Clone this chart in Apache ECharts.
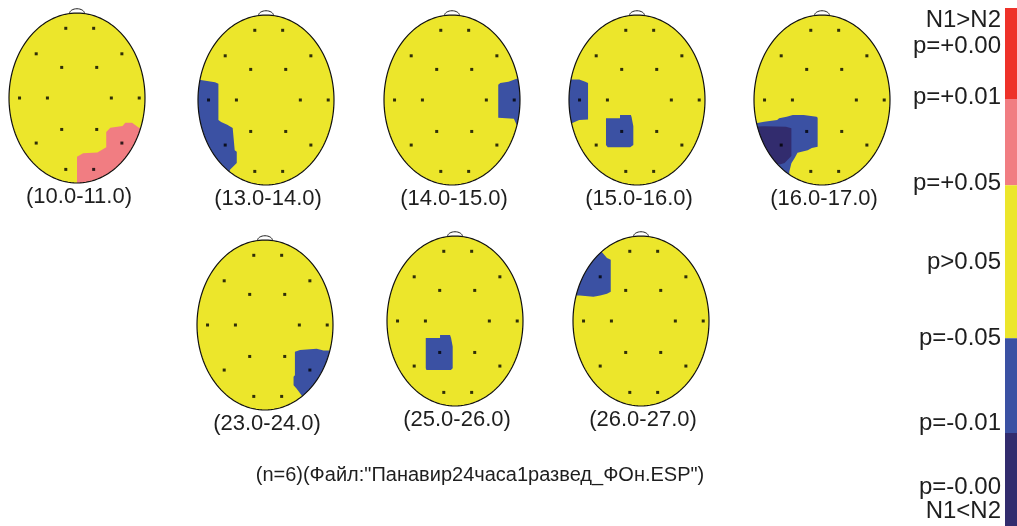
<!DOCTYPE html>
<html>
<head>
<meta charset="utf-8">
<script src="https://cdn.jsdelivr.net/npm/echarts@6/dist/echarts.min.js"></script>
<style>
  html, body { margin: 0; padding: 0; background: #ffffff; }
  #chart { width: 1017px; height: 526px; }
</style>
</head>
<body>
<div id="chart"></div>
<script>
// ---- data ---------------------------------------------------------------
// analysis windows, seconds
const windowLabels = ['(10.0-11.0)', '(13.0-14.0)', '(14.0-15.0)', '(15.0-16.0)', '(16.0-17.0)',
                      '(23.0-24.0)', '(25.0-26.0)', '(26.0-27.0)'];

// 16-channel montage, head-unit coordinates (x: left→right, y: back→nose)
const electrodeNames = ['Fp1', 'Fp2', 'F7', 'F3', 'F4', 'F8', 'T3', 'C3', 'C4', 'T4', 'T5', 'P3', 'P4', 'T6', 'O1', 'O2'];
const electrodeX = [-0.165, 0.245, -0.60, -0.225, 0.29, 0.66, -0.845, -0.435, 0.505, 0.915, -0.60, -0.225, 0.29, 0.66, -0.165, 0.245];
const electrodeY = [0.82, 0.82, 0.52, 0.36, 0.36, 0.52, 0.0, 0.0, 0.0, 0.0, -0.53, -0.37, -0.37, -0.53, -0.84, -0.84];

// significance levels of the N1 vs N2 comparison
const levelKeys   = ['pos001', 'pos01', 'ns', 'neg01', 'neg001'];
const levelColors = ['#ee3129', '#f17d82', '#ece62b', '#3b51a3', '#322c6e'];

// significant areas per window, as contours in head units
const areas10_11 = [
  { level: 'pos01', points: [[0.0, -1.2], [0.0, -0.69], [0.09, -0.65], [0.30, -0.64], [0.43, -0.58], [0.43, -0.40],
    [0.49, -0.35], [0.67, -0.33], [0.71, -0.29], [0.81, -0.29], [0.91, -0.35], [1.2, -0.35], [1.2, -1.2]] }
];
const areas13_14 = [
  { level: 'neg01', points: [[-1.2, 0.235], [-0.96, 0.235], [-0.75, 0.21], [-0.70, 0.19], [-0.70, -0.235], [-0.66, -0.26],
    [-0.57, -0.29], [-0.49, -0.33], [-0.46, -0.59], [-0.43, -0.61], [-0.43, -0.74], [-0.53, -0.82], [-0.6, -1.2], [-1.2, -1.2]] }
];
const areas14_15 = [
  { level: 'neg01', points: [[0.68, 0.18], [0.71, 0.20], [0.83, 0.215], [0.95, 0.25], [1.2, 0.25], [1.2, -0.30],
    [0.95, -0.29], [0.91, -0.22], [0.68, -0.21]] }
];
const areas15_16 = [
  { level: 'neg01', points: [[-1.2, 0.24], [-0.85, 0.24], [-0.76, 0.215], [-0.72, 0.20], [-0.72, -0.23], [-0.85, -0.235],
    [-0.95, -0.27], [-1.2, -0.27]] },
  { level: 'neg01', points: [[-0.456, -0.215], [-0.25, -0.215], [-0.25, -0.176], [-0.09, -0.176], [-0.08, -0.20],
    [-0.054, -0.31], [-0.054, -0.53], [-0.10, -0.556], [-0.43, -0.556], [-0.456, -0.53]] }
];
const areas16_17 = [
  { level: 'neg01', points: [[-1.2, -0.27], [-0.95, -0.27], [-0.85, -0.255], [-0.66, -0.235], [-0.63, -0.215], [-0.52, -0.196],
    [-0.43, -0.176], [-0.27, -0.176], [-0.08, -0.196], [-0.064, -0.21], [-0.064, -0.55], [-0.15, -0.565], [-0.21, -0.59],
    [-0.36, -0.62], [-0.40, -0.68], [-0.45, -0.745], [-0.48, -0.84], [-0.5, -1.2], [-1.2, -1.2]] },
  { level: 'neg001', points: [[-1.2, -0.32], [-0.85, -0.31], [-0.53, -0.314], [-0.45, -0.333], [-0.45, -0.66],
    [-0.50, -0.70], [-0.55, -0.74], [-0.62, -0.76], [-0.70, -0.74], [-1.2, -0.74]] }
];
const areas23_24 = [
  { level: 'neg01', points: [[0.44, -0.314], [0.515, -0.294], [0.76, -0.28], [0.86, -0.30], [1.2, -0.30], [1.2, -1.2],
    [0.6, -1.2], [0.54, -0.83], [0.466, -0.75], [0.42, -0.71], [0.42, -0.61], [0.44, -0.59]] }
];
const areas25_26 = [
  { level: 'neg01', points: [[-0.43, -0.20], [-0.22, -0.20], [-0.22, -0.165], [-0.073, -0.165], [-0.058, -0.20],
    [-0.034, -0.30], [-0.034, -0.556], [-0.06, -0.576], [-0.42, -0.576], [-0.43, -0.556]] }
];
const areas26_27 = [
  { level: 'neg01', points: [[-0.6, 1.2], [-0.58, 0.815], [-0.50, 0.74], [-0.445, 0.72], [-0.445, 0.345], [-0.50, 0.32],
    [-0.60, 0.30], [-0.70, 0.285], [-0.90, 0.30], [-1.2, 0.30], [-1.2, 1.2]] }
];
const windowAreas = [areas10_11, areas13_14, areas14_15, areas15_16, areas16_17, areas23_24, areas25_26, areas26_27];

// colour scale: band edges and tick labels on a 0–100 scale, top to bottom
const scaleBandEdges = [1.5, 18.8, 35.2, 64.3, 82.3, 100];
const scaleLabels    = ['N1>N2', 'p=+0.00', 'p=+0.01', 'p=+0.05', 'p>0.05', 'p=-0.05', 'p=-0.01', 'p=-0.00', 'N1<N2'];
const scaleLabelPos  = [3.8, 8.9, 18.6, 34.8, 49.8, 64.3, 80.4, 92.6, 97.3];

const footnote = '(n=6)(Файл:"Панавир24часа1развед_ФОн.ESP")';

// ---- layout --------------------------------------------------------------
const headCenters = [[77, 98], [266, 100], [452, 100], [637, 100], [822, 100], [265, 325], [455, 321], [641, 321]];
const headRx = 68, headRy = 85;
const labelOffsetY = 99;
const FONT = '"Liberation Sans", Arial, sans-serif';

// ---- geometry helpers ----------------------------------------------------
const RIM_STEPS = 144;
const rim = [];
for (let i = 0; i < RIM_STEPS; i++) {
  const t = (i / RIM_STEPS) * Math.PI * 2;
  rim.push([Math.cos(t), Math.sin(t)]);
}
function side(a, b, p) {
  return (b[0] - a[0]) * (p[1] - a[1]) - (b[1] - a[1]) * (p[0] - a[0]);
}
// Sutherland–Hodgman clip of an area contour to the head outline
function clipToHead(poly) {
  let out = poly;
  for (let i = 0; i < rim.length && out.length; i++) {
    const a = rim[i], b = rim[(i + 1) % rim.length];
    const src = out;
    out = [];
    for (let j = 0; j < src.length; j++) {
      const p = src[j], q = src[(j + 1) % src.length];
      const sp = side(a, b, p), sq = side(a, b, q);
      if (sp >= 0) out.push(p);
      if ((sp >= 0) !== (sq >= 0)) {
        const t = sp / (sp - sq);
        out.push([p[0] + t * (q[0] - p[0]), p[1] + t * (q[1] - p[1])]);
      }
    }
  }
  return out;
}
const colorOf = {};
levelKeys.forEach((k, i) => { colorOf[k] = levelColors[i]; });

// ---- option --------------------------------------------------------------
const grid = [], xAxis = [], yAxis = [], series = [], graphic = [];

headCenters.forEach((c, h) => {
  grid.push({ left: c[0] - headRx, top: c[1] - headRy, width: headRx * 2, height: headRy * 2 });
  xAxis.push({ gridIndex: h, type: 'value', min: -1, max: 1, show: false });
  yAxis.push({ gridIndex: h, type: 'value', min: -1, max: 1, show: false });

  // scalp
  series.push({
    type: 'custom', xAxisIndex: h, yAxisIndex: h, silent: true, animation: false, z: 1,
    data: [[0, 0]],
    renderItem: (params, api) => ({
      type: 'polygon',
      shape: { points: rim.map(p => api.coord(p)) },
      style: { fill: levelColors[2] }
    })
  });

  // significant areas
  const areas = windowAreas[h];
  series.push({
    type: 'custom', xAxisIndex: h, yAxisIndex: h, silent: true, animation: false, z: 2,
    data: areas.map(() => [0, 0]),
    renderItem: (params, api) => {
      const a = areas[params.dataIndex];
      return {
        type: 'polygon',
        shape: { points: clipToHead(a.points).map(p => api.coord(p)) },
        style: { fill: colorOf[a.level] }
      };
    }
  });

  // outline and nose
  series.push({
    type: 'custom', xAxisIndex: h, yAxisIndex: h, silent: true, animation: false, z: 3,
    data: [[0, 0]],
    renderItem: (params, api) => {
      const nose = [];
      for (let i = 0; i <= 16; i++) {
        const t = (i / 16) * Math.PI;
        nose.push(api.coord([0.11 * Math.cos(t), 0.995 + 0.055 * Math.sin(t)]));
      }
      return {
        type: 'group',
        children: [
          { type: 'polygon', shape: { points: rim.map(p => api.coord(p)) },
            style: { fill: 'none', stroke: '#111', lineWidth: 1.2 } },
          { type: 'polyline', shape: { points: nose },
            style: { fill: 'none', stroke: '#222', lineWidth: 1 } }
        ]
      };
    }
  });

  // electrodes
  series.push({
    type: 'scatter', xAxisIndex: h, yAxisIndex: h, silent: true, animation: false, z: 4,
    symbol: 'rect', symbolSize: 3,
    itemStyle: { color: '#000' },
    data: electrodeNames.map((n, i) => ({ name: n, value: [electrodeX[i], electrodeY[i]] }))
  });

  graphic.push({
    type: 'text', x: c[0] + 2, y: c[1] + labelOffsetY, silent: true,
    style: { text: windowLabels[h], font: '22px ' + FONT, fill: '#1e1e1e', align: 'center', verticalAlign: 'middle' }
  });
});

// colour scale
const sIdx = headCenters.length;
grid.push({ left: 1005, top: 0, width: 12, height: 526 });
xAxis.push({ gridIndex: sIdx, type: 'value', min: 0, max: 1, show: false });
yAxis.push({ gridIndex: sIdx, type: 'value', min: 0, max: 100, inverse: true, show: false });
series.push({
  type: 'custom', xAxisIndex: sIdx, yAxisIndex: sIdx, silent: true, animation: false,
  data: levelColors.map((col, i) => [scaleBandEdges[i], scaleBandEdges[i + 1]]),
  renderItem: (params, api) => {
    const p0 = api.coord([0, api.value(0)]);
    const p1 = api.coord([1, api.value(1)]);
    return {
      type: 'rect',
      shape: { x: p0[0], y: p0[1], width: p1[0] - p0[0], height: p1[1] - p0[1] },
      style: { fill: levelColors[params.dataIndex] }
    };
  }
});
series.push({
  type: 'custom', xAxisIndex: sIdx, yAxisIndex: sIdx, silent: true, animation: false,
  data: scaleLabelPos.map(v => [0, v]),
  renderItem: (params, api) => {
    const p = api.coord([0, api.value(1)]);
    return {
      type: 'text', x: p[0] - 4, y: p[1],
      style: { text: scaleLabels[params.dataIndex], font: '24px ' + FONT, fill: '#1e1e1e',
               align: 'right', verticalAlign: 'middle' }
    };
  }
});

graphic.push({
  type: 'text', x: 480, y: 475, silent: true,
  style: { text: footnote, font: '20px ' + FONT, fill: '#1e1e1e', align: 'center', verticalAlign: 'middle' }
});

const chart = echarts.init(document.getElementById('chart'), null, { renderer: 'canvas' });
chart.setOption({
  backgroundColor: '#ffffff',
  animation: false,
  grid, xAxis, yAxis, series, graphic
});
</script>
</body>
</html>
